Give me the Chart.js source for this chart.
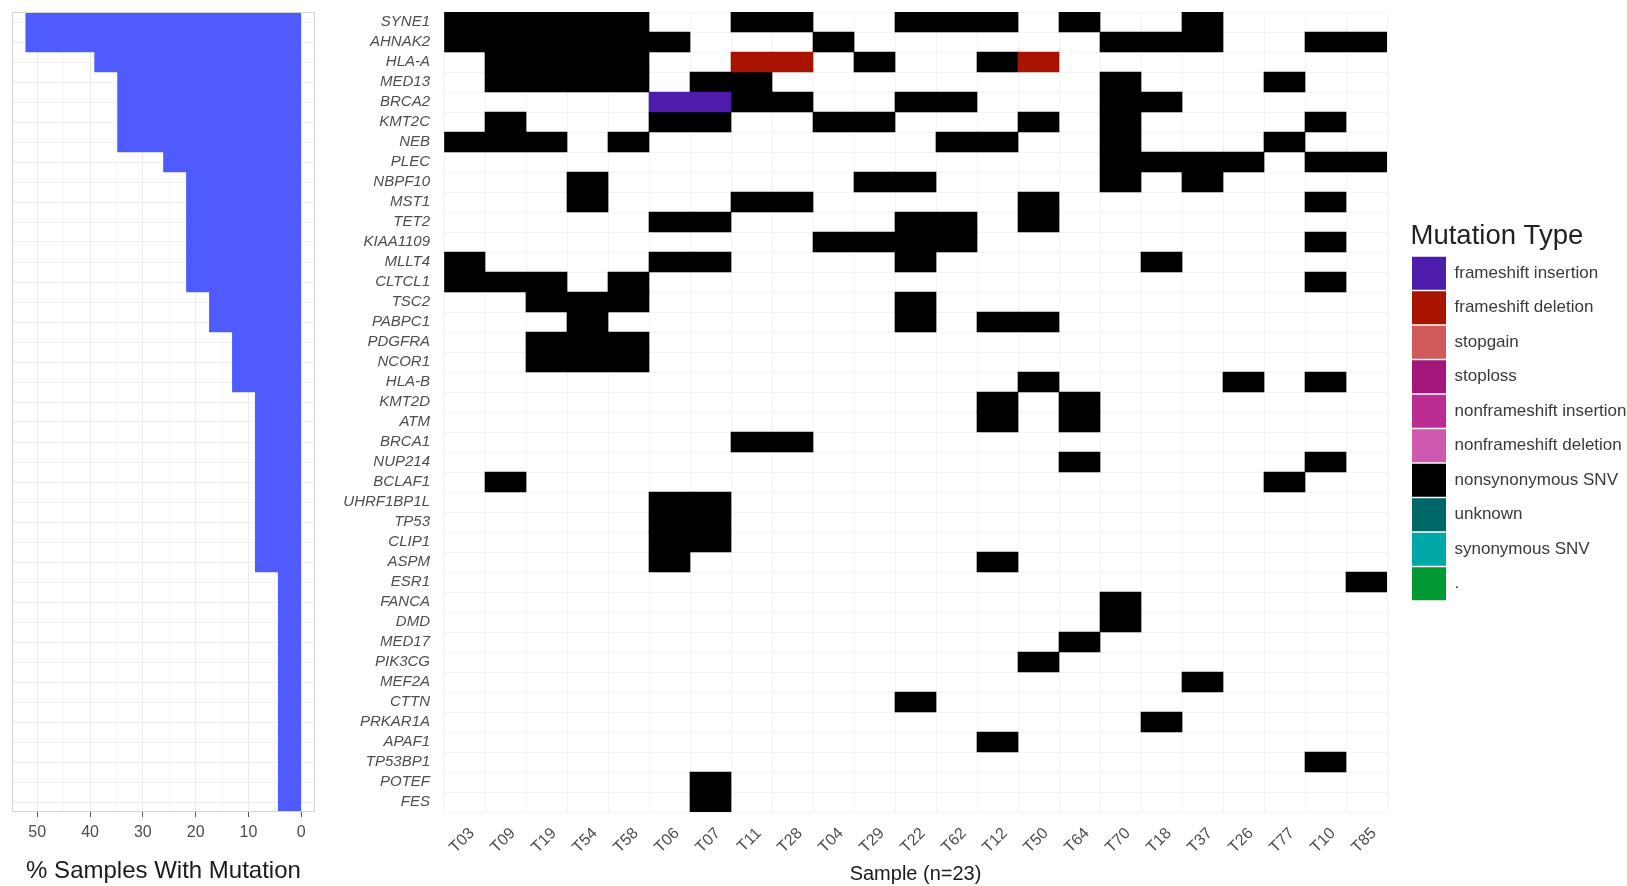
<!DOCTYPE html>
<html>
<head>
<meta charset="utf-8">
<script src="https://cdn.jsdelivr.net/npm/chart.js@4.4.1/dist/chart.umd.min.js"></script>
<style>
html,body{margin:0;padding:0;background:#fff;overflow:hidden}
.wrap{position:absolute;left:0;top:0;width:1627px;height:886px}
</style>
</head>
<body>
<div class="wrap"><canvas id="bars" width="1627" height="886"></canvas></div>
<div class="wrap"><canvas id="heat" width="1627" height="886"></canvas></div>
<script>
// ---------- data ----------
const genes = ['SYNE1','AHNAK2','HLA-A','MED13','BRCA2','KMT2C','NEB','PLEC','NBPF10','MST1','TET2','KIAA1109','MLLT4','CLTCL1','TSC2','PABPC1','PDGFRA','NCOR1','HLA-B','KMT2D','ATM','BRCA1','NUP214','BCLAF1','UHRF1BP1L','TP53','CLIP1','ASPM','ESR1','FANCA','DMD','MED17','PIK3CG','MEF2A','CTTN','PRKAR1A','APAF1','TP53BP1','POTEF','FES'];
const samples = ['T03','T09','T19','T54','T58','T06','T07','T11','T28','T04','T29','T22','T62','T12','T50','T64','T70','T18','T37','T26','T77','T10','T85'];
const pctSamplesWithMutation = [52.17,52.17,39.13,34.78,34.78,34.78,34.78,26.09,21.74,21.74,21.74,21.74,21.74,21.74,17.39,17.39,13.04,13.04,13.04,8.70,8.70,8.70,8.70,8.70,8.70,8.70,8.70,8.70,4.35,4.35,4.35,4.35,4.35,4.35,4.35,4.35,4.35,4.35,4.35,4.35];
const percentTicks = [0,5,10,15,20,25,30,35,40,45,50];
const mutationTypes = ['frameshift insertion','frameshift deletion','stopgain','stoploss','nonframeshift insertion','nonframeshift deletion','nonsynonymous SNV','unknown','synonymous SNV','.'];
const mutationColors = ['#4e1caa','#a81400','#cf5a59','#a3177a','#bc2d94','#cf59ae','#000000','#006666','#00a8a8','#009933'];
const frameshiftInsertionCells = [['BRCA2',['T06','T07']]];
const frameshiftDeletionCells = [['HLA-A',['T11','T28','T50']]];
const nonsynonymousSNVCells = [
  ['SYNE1',['T03','T09','T19','T54','T58','T11','T28','T22','T62','T12','T64','T37']],
  ['AHNAK2',['T03','T09','T19','T54','T58','T06','T04','T70','T18','T37','T10','T85']],
  ['HLA-A',['T09','T19','T54','T58','T29','T12']],
  ['MED13',['T09','T19','T54','T58','T07','T11','T70','T77']],
  ['BRCA2',['T11','T28','T22','T62','T70','T18']],
  ['KMT2C',['T09','T06','T07','T04','T29','T50','T70','T10']],
  ['NEB',['T03','T09','T19','T58','T62','T12','T70','T77']],
  ['PLEC',['T70','T18','T37','T26','T10','T85']],
  ['NBPF10',['T54','T29','T22','T70','T37']],
  ['MST1',['T54','T11','T28','T50','T10']],
  ['TET2',['T06','T07','T22','T62','T50']],
  ['KIAA1109',['T04','T29','T22','T62','T10']],
  ['MLLT4',['T03','T06','T07','T22','T18']],
  ['CLTCL1',['T03','T09','T19','T58','T10']],
  ['TSC2',['T19','T54','T58','T22']],
  ['PABPC1',['T54','T22','T12','T50']],
  ['PDGFRA',['T19','T54','T58']],
  ['NCOR1',['T19','T54','T58']],
  ['HLA-B',['T50','T26','T10']],
  ['KMT2D',['T12','T64']],
  ['ATM',['T12','T64']],
  ['BRCA1',['T11','T28']],
  ['NUP214',['T64','T10']],
  ['BCLAF1',['T09','T77']],
  ['UHRF1BP1L',['T06','T07']],
  ['TP53',['T06','T07']],
  ['CLIP1',['T06','T07']],
  ['ASPM',['T06','T12']],
  ['ESR1',['T85']],
  ['FANCA',['T70']],
  ['DMD',['T70']],
  ['MED17',['T64']],
  ['PIK3CG',['T50']],
  ['MEF2A',['T37']],
  ['CTTN',['T22']],
  ['PRKAR1A',['T18']],
  ['APAF1',['T12']],
  ['TP53BP1',['T10']],
  ['POTEF',['T07']],
  ['FES',['T07']]
];
const cellsByType = [frameshiftInsertionCells, frameshiftDeletionCells, [], [], [], [], nonsynonymousSNVCells, [], [], []];

// ---------- setup ----------
Chart.defaults.font.family = "'Liberation Sans', Arial, Helvetica, sans-serif";
Chart.defaults.color = '#4d4d4d';

const panelBorder = {
  id: 'panelBorder',
  afterDraw(chart) {
    const {ctx, chartArea: a} = chart;
    ctx.save();
    ctx.strokeStyle = '#d4d4d4';
    ctx.lineWidth = 1;
    ctx.strokeRect(a.left + 0.5, a.top + 0.5, a.width - 1, a.height - 1);
    ctx.restore();
  }
};

// ---------- left bar chart ----------
new Chart(document.getElementById('bars'), {
  type: 'bar',
  data: {
    labels: genes,
    datasets: [{
      data: pctSamplesWithMutation,
      backgroundColor: '#4f5bff',
      borderWidth: 0,
      barPercentage: 1,
      categoryPercentage: 1
    }]
  },
  options: {
    indexAxis: 'y',
    responsive: false,
    animation: false,
    layout: {padding: {left: 12, right: 1312, top: 12, bottom: 0}},
    plugins: {legend: {display: false}, tooltip: {enabled: false}},
    scales: {
      x: {
        type: 'linear',
        reverse: true,
        min: -2.6087,
        max: 54.7826,
        afterBuildTicks: ax => { ax.ticks = percentTicks.map(v => ({value: v})); },
        ticks: {
          autoSkip: false, maxRotation: 0, minRotation: 0, padding: 6,
          color: '#4d4d4d', font: {size: 16},
          callback: v => (v % 10 === 0 ? String(v) : '')
        },
        grid: {
          color: c => (c.tick && c.tick.value % 10 === 0 ? '#ebebeb' : '#f6f6f6'),
          tickColor: c => (c.tick && c.tick.value % 10 === 0 ? '#555' : 'rgba(0,0,0,0)'),
          tickLength: 5,
          lineWidth: 1
        },
        border: {display: false},
        title: {display: true, text: '% Samples With Mutation', font: {size: 24}, color: '#1a1a1a', padding: {top: 0, bottom: 0}},
        afterFit: s => { s.height = 74; }
      },
      y: {
        type: 'category',
        offset: true,
        ticks: {display: false},
        grid: {offset: false, color: '#eeeeee', drawTicks: false},
        border: {display: false},
        afterFit: s => { s.width = 0; }
      }
    }
  },
  plugins: [panelBorder]
});

// ---------- heatmap ----------
const toBars = cells => cells.flatMap(([g, ss]) => ss.map(s => {
  const c = samples.indexOf(s);
  return {y: g, x: [c, c + 1]};
}));

const heatDatasets = mutationTypes.map((t, i) => ({
  label: t,
  data: toBars(cellsByType[i]),
  backgroundColor: mutationColors[i],
  borderWidth: 0,
  barPercentage: 1,
  categoryPercentage: 1,
  grouped: false,
  xAxisID: 'x',
  yAxisID: 'y'
}));

// grid lines at column boundaries, sample labels (hjust = 1, angle 45) just right of column centres
const labelShift = 0.68;
const sampleTicks = [];
for (let i = 0; i <= samples.length; i++) sampleTicks.push({value: i});
for (let i = 0; i < samples.length; i++) sampleTicks.push({value: i + labelShift});
sampleTicks.sort((a, b) => a.value - b.value);

const spacerWidth = 23.5;
const hm = new Chart(document.getElementById('heat'), {
  type: 'bar',
  data: {labels: genes, datasets: heatDatasets},
  options: {
    indexAxis: 'y',
    responsive: false,
    animation: false,
    layout: {padding: {left: 320, right: 0, top: 12, bottom: 0}},
    plugins: {
      tooltip: {enabled: false},
      legend: {
        display: true,
        position: 'right',
        align: 'center',
        fullSize: false,
        maxWidth: 400,
        onClick: null,
        labels: {boxWidth: 34, boxHeight: 33, padding: 1.5, color: '#3a3a3a', font: {size: 17}},
        title: {display: true, text: 'Mutation Type', color: '#222222', font: {size: 27.5}, padding: 0, position: 'start'}
      }
    },
    scales: {
      x: {
        type: 'linear',
        min: 0,
        max: samples.length,
        afterBuildTicks: ax => { ax.ticks = sampleTicks.map(t => ({value: t.value})); },
        ticks: {
          autoSkip: false, minRotation: 45, maxRotation: 45, padding: 12,
          color: '#4d4d4d', font: {size: 16},
          callback: v => (Number.isInteger(v) ? '' : samples[Math.floor(v)])
        },
        grid: {
          color: c => (c.tick && Number.isInteger(c.tick.value) ? '#f3f3f3' : 'rgba(0,0,0,0)'),
          drawTicks: false
        },
        border: {display: false},
        title: {display: true, text: 'Sample (n=23)', font: {size: 20}, color: '#1a1a1a', padding: {top: 0, bottom: 0}},
        afterFit: s => { s.height = 74; }
      },
      y: {
        type: 'category',
        offset: true,
        ticks: {autoSkip: false, padding: 0, color: '#4d4d4d', font: {size: 15, style: 'italic'}},
        grid: {offset: true, color: '#f3f3f3', drawTicks: true, tickLength: 14, tickColor: 'rgba(0,0,0,0)'},
        border: {display: false},
        afterFit: s => { s.width = 124; }
      },
      spacer: {
        axis: 'y',
        type: 'linear',
        position: 'right',
        display: true,
        grid: {display: false},
        ticks: {display: false},
        border: {display: false},
        afterFit: s => { s.width = spacerWidth; }
      }
    }
  }
});

// place legend so its boxes start at x = 1412 and the tile area ends at x = 1387
hm.options.layout.padding.right = 1627 - 1410.5 - hm.legend.width;
hm.update();
</script>
</body>
</html>
